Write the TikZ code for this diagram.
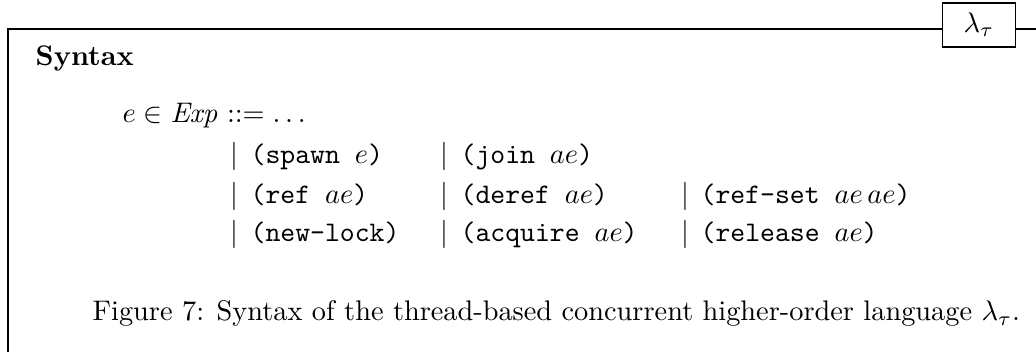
\documentclass[tikz,border=0pt]{standalone}
\usepackage{tikz}

\begin{document}
\begin{tikzpicture}
  [x=0.353pt, y=-0.353pt, line width=0.5pt,
   every node/.style={inner sep=0pt, anchor=base west},
   tag/.style={draw, anchor=center, minimum width=25.8pt, minimum height=15.5pt}]
  \useasboundingbox (0,0) rectangle (1036,352);

  % frame with the language tag on its top edge
  \node [name=lam, tag] at (979,25) {$\lambda_\tau$};
  \coordinate (topleft) at (8,29);
  \coordinate (topright) at (1036,29);
  \coordinate (bottomleft) at (8,352);
  \draw (bottomleft) -- (topleft) -- (topleft -| lam.west);
  \draw (topleft -| lam.east) -- (topright);

  \node [name=title, font=\bfseries] at (35,66) {Syntax};
  \node [name=exp] at (122,123) {$e \in \mathit{Exp} \mathrel{::=} \ldots$};

  % first row
  \node [name=bar11] at (230,164) {$|$};
  \node [name=spawn] at (250,164) {\texttt{(spawn }$e$\texttt{)}};
  \node [name=bar12] at (440,164) {$|$};
  \node [name=join] at (460,164) {\texttt{(join }$ae$\texttt{)}};
  % second row
  \node [name=bar21] at (230,204) {$|$};
  \node [name=ref] at (250,204) {\texttt{(ref }$ae$\texttt{)}};
  \node [name=bar22] at (440,204) {$|$};
  \node [name=deref] at (460,204) {\texttt{(deref }$ae$\texttt{)}};
  \node [name=bar23] at (681,204) {$|$};
  \node [name=refset] at (700,204) {\texttt{(ref-set }$ae\,ae$\texttt{)}};
  % third row
  \node [name=bar31] at (230,242) {$|$};
  \node [name=newlock] at (250,242) {\texttt{(new-lock)}};
  \node [name=bar32] at (440,242) {$|$};
  \node [name=acquire] at (460,242) {\texttt{(acquire }$ae$\texttt{)}};
  \node [name=bar33] at (681,242) {$|$};
  \node [name=release] at (700,242) {\texttt{(release }$ae$\texttt{)}};

  \node [name=caption] at (92,321) {Figure 7: Syntax of the thread-based concurrent higher-order language $\lambda_\tau$.};
\end{tikzpicture}
\end{document}
